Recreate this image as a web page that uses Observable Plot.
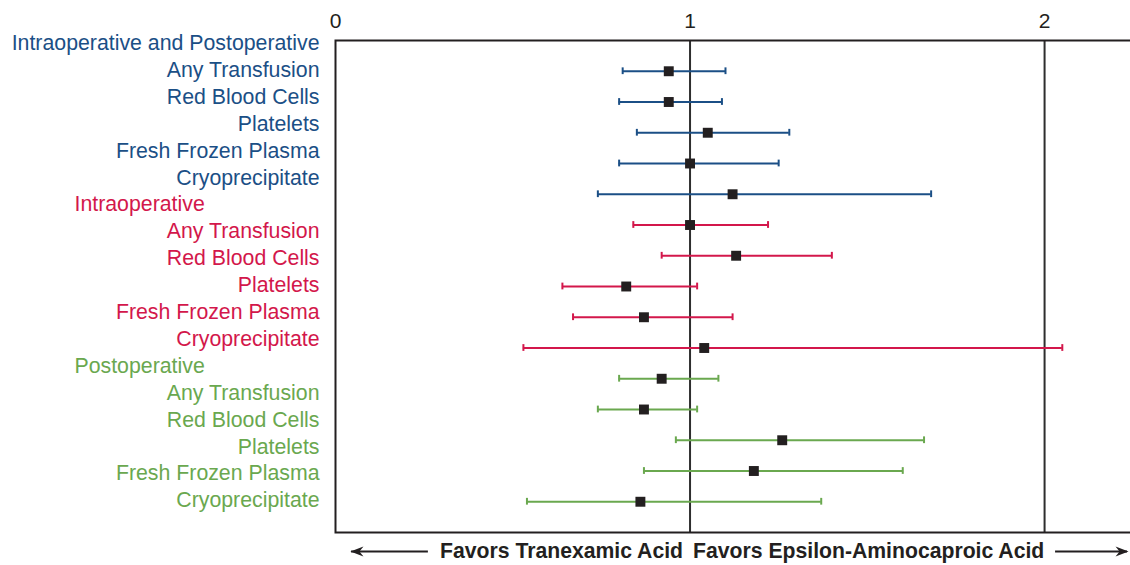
<!DOCTYPE html>
<html>
<head>
<meta charset="utf-8">
<script src="https://cdn.jsdelivr.net/npm/d3@7"></script>
<script src="https://cdn.jsdelivr.net/npm/@observablehq/plot@0.6"></script>
<style>
  html, body { margin: 0; padding: 0; background: #fff; overflow: hidden; }
  #wrap { position: relative; width: 1130px; height: 565px; overflow: hidden; }
  #wrap svg { position: absolute; left: 0; top: 0; display: block; max-width: none !important; }
</style>
</head>
<body>
<div id="wrap"></div>
<script>
// ---- data ----
const groups = ["Intraoperative and Postoperative", "Intraoperative", "Postoperative"];
const groupColors = ["#1b4f86", "#d3174b", "#6aa84f"];
const outcomes = ["Any Transfusion", "Red Blood Cells", "Platelets", "Fresh Frozen Plasma", "Cryoprecipitate"];

// odds ratios (point estimates) and 95% CI, per group, in outcome order
const estimates = [
  [0.94, 0.94, 1.05, 1.00, 1.12],
  [1.00, 1.13, 0.82, 0.87, 1.04],
  [0.92, 0.87, 1.26, 1.18, 0.86]
];
const lowerCI = [
  [0.81, 0.80, 0.85, 0.80, 0.74],
  [0.84, 0.92, 0.64, 0.67, 0.53],
  [0.80, 0.74, 0.96, 0.87, 0.54]
];
const upperCI = [
  [1.10, 1.09, 1.28, 1.25, 1.68],
  [1.22, 1.40, 1.02, 1.12, 2.05],
  [1.08, 1.02, 1.66, 1.60, 1.37]
];
const xTicks = [0, 1, 2];
const favorLeft = "Favors Tranexamic Acid";
const favorRight = "Favors Epsilon-Aminocaproic Acid";

// ---- build tables ----
const rows = [];
groups.forEach((g, gi) => outcomes.forEach((o, oi) => rows.push({
  group: g, outcome: o, row: rows.length + 1,
  est: estimates[gi][oi], lo: lowerCI[gi][oi], hi: upperCI[gi][oi]
})));

const labels = [];
groups.forEach((g, gi) => {
  labels.push({id: labels.length, text: g, group: g, header: true, first: gi === 0});
  outcomes.forEach(o => labels.push({id: labels.length, text: o, group: g, header: false}));
});

const font = "'Liberation Sans', Arial, Helvetica, sans-serif";
const ink = "#231f20";
const capHalf = 0.11;
const annotationRow = rows.length + 1.62;
const arrowLeft = {from: 0.262, to: 0.045};
const arrowRight = {from: 2.031, to: 2.234};

// filled arrowheads with tip at the dot position
const headRight = {draw(ctx) { ctx.moveTo(1, 0); ctx.lineTo(-12, -5); ctx.lineTo(-8, 0); ctx.lineTo(-12, 5); ctx.closePath(); }};
const headLeft = {draw(ctx) { ctx.moveTo(-1, 0); ctx.lineTo(12, -5); ctx.lineTo(8, 0); ctx.lineTo(12, 5); ctx.closePath(); }};

// ---- main forest plot ----
const main = Plot.plot({
  width: 1132,
  height: 565,
  marginLeft: 335,
  marginRight: 0,
  marginTop: 40,
  marginBottom: 33,
  style: {fontFamily: font, background: "transparent", overflow: "visible"},
  x: {domain: [0, 2.248], axis: null},
  y: {domain: [0, rows.length + 1], reverse: true, axis: null},
  color: {domain: groups, range: groupColors},
  marks: [
    Plot.axisX({anchor: "top", ticks: xTicks, tickSize: 0, tickPadding: 13, fontSize: 21, fill: ink, tickFormat: d3.format("d")}),
    Plot.ruleX([1, 2], {stroke: "#2e2e2e", strokeWidth: 2}),
    Plot.ruleY(rows, {x1: "lo", x2: "hi", y: "row", stroke: "group", strokeWidth: 2}),
    Plot.ruleX(rows, {x: "lo", y1: d => d.row - capHalf, y2: d => d.row + capHalf, stroke: "group", strokeWidth: 2}),
    Plot.ruleX(rows, {x: "hi", y1: d => d.row - capHalf, y2: d => d.row + capHalf, stroke: "group", strokeWidth: 2}),
    Plot.dot(rows, {x: "est", y: "row", symbol: "square", r: 5.6, fill: ink, stroke: null}),
    Plot.frame({stroke: ink, strokeWidth: 2}),
    Plot.ruleY([arrowLeft, arrowRight], {x1: "from", x2: "to", y: annotationRow, stroke: ink, strokeWidth: 2}),
    Plot.dot([arrowLeft], {x: "to", y: annotationRow, symbol: headLeft, fill: ink, stroke: null}),
    Plot.dot([arrowRight], {x: "to", y: annotationRow, symbol: headRight, fill: ink, stroke: null}),
    Plot.text([favorLeft], {x: 1, y: annotationRow, text: d => d, textAnchor: "end", dx: -7, fontSize: 21.2, fontWeight: "bold", fill: ink}),
    Plot.text([favorRight], {x: 1, y: annotationRow, text: d => d, textAnchor: "start", dx: 3, fontSize: 21.2, fontWeight: "bold", fill: ink})
  ]
});

// ---- row labels on the left ----
const labelPlot = Plot.plot({
  width: 335,
  height: 565,
  marginLeft: 0,
  marginRight: 16,
  marginTop: 0,
  marginBottom: 0,
  style: {fontFamily: font, background: "transparent"},
  x: {axis: null},
  y: {type: "linear", domain: [0, labels.length - 1], range: [42.7, 500], axis: null},
  color: {domain: groups, range: groupColors},
  marks: [
    Plot.text(labels.filter(d => !d.header || d.first), {y: "id", text: "text", fill: "group", frameAnchor: "right", textAnchor: "end", fontSize: 21.3}),
    Plot.text(labels.filter(d => d.header && !d.first), {y: "id", text: "text", fill: "group", frameAnchor: "left", textAnchor: "start", dx: 74, fontSize: 21.3})
  ]
});

const wrap = document.getElementById("wrap");
wrap.appendChild(main);
wrap.appendChild(labelPlot);
</script>
</body>
</html>
